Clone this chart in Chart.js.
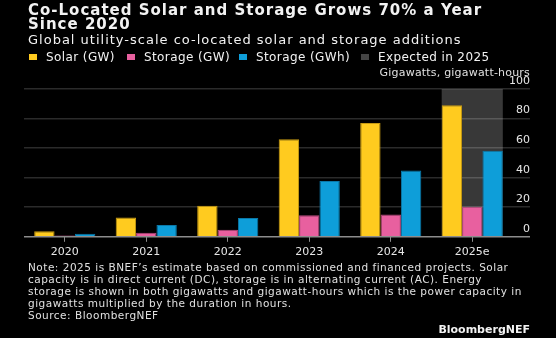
<!DOCTYPE html>
<html>
<head>
<meta charset="utf-8">
<script src="https://cdn.jsdelivr.net/npm/chart.js@4.4.1/dist/chart.umd.min.js"></script>
<style>
  html, body { margin: 0; padding: 0; background: #000; }
  #wrap { position: relative; width: 556px; height: 338px; overflow: hidden; font-family: "DejaVu Sans", sans-serif; color: #f2f2f2; }
  #chart { position: absolute; left: 0; top: 0; }
  .txt { position: absolute; white-space: nowrap; }
  #title { left: 28px; top: 3px; font-size: 15px; font-weight: bold; line-height: 14px; letter-spacing: 1px; }
  #subtitle { left: 28px; top: 32px; font-size: 13px; letter-spacing: 1px; }
  #unit { right: 26px; top: 66px; font-size: 11px; color: #e0e0e0; letter-spacing: 0.2px; }
  #note { left: 28px; top: 261px; font-size: 10.5px; line-height: 12px; color: #e0e0e0; letter-spacing: 0.5px; }
  #logo { right: 26px; top: 323px; font-size: 11px; font-weight: bold; }
  .leg { position: absolute; top: 50px; font-size: 12px; letter-spacing: 0.4px; white-space: nowrap; }
  .leg i { display: inline-block; width: 8px; height: 6px; margin-right: 9px; vertical-align: 1px; }
</style>
</head>
<body>
<div id="wrap">
  <canvas id="chart" width="556" height="338"></canvas>
  <div class="txt" id="title">Co-Located Solar and Storage Grows 70% a Year<br>Since 2020</div>
  <div class="txt" id="subtitle">Global utility-scale co-located solar and storage additions</div>
  <div id="legenda"></div>
  <div class="txt" id="unit">Gigawatts, gigawatt-hours</div>
  <div class="txt" id="note">Note: 2025 is BNEF’s estimate based on commissioned and financed projects. Solar<br>capacity is in direct current (DC), storage is in alternating current (AC). Energy<br>storage is shown in both gigawatts and gigawatt-hours which is the power capacity in<br>gigawatts multiplied by the duration in hours.<br>Source: BloombergNEF</div>
  <div class="txt" id="logo">BloombergNEF</div>
</div>
<script>
// categories and values
const anos = ['2020', '2021', '2022', '2023', '2024', '2025e'];
const solarGW = [3.8, 13, 21, 66, 77, 89];
const storageGW = [0.8, 2.7, 4.8, 14.6, 15.1, 20.3];
const storageGWh = [2.0, 7.9, 12.7, 37.8, 44.9, 58.2];
const yTicks = [0, 20, 40, 60, 80, 100];
const indiceEsperado = 5; // 2025e is the estimate

const COR_SOLAR = '#ffcb1f';
const COR_GW = '#e8609f';
const COR_GWH = '#0e9ed9';
const COR_ESPERADO = '#383838';

// legend (html) - 4th item is the grey box, not a dataset
const itensLegenda = [
    { texto: 'Solar (GW)', cor: COR_SOLAR, x: 29 },
    { texto: 'Storage (GW)', cor: COR_GW, x: 127 },
    { texto: 'Storage (GWh)', cor: COR_GWH, x: 239 },
    { texto: 'Expected in 2025', cor: '#444444', x: 361 }
];
document.getElementById('legenda').innerHTML = itensLegenda
    .map(i => `<div class="leg" style="left:${i.x}px"><i style="background:${i.cor}"></i>${i.texto}</div>`)
    .join('');

// grey box behind the expected year
const fundoEsperado = {
    id: 'fundoEsperado',
    beforeDraw(chart) {
        const y = chart.scales.y;
        const b0 = chart.getDatasetMeta(0).data[indiceEsperado];
        const b2 = chart.getDatasetMeta(2).data[indiceEsperado];
        if (!b0 || !b2) return;
        const left = b0.x - b0.width / 2;
        const right = b2.x + b2.width / 2;
        const top = y.getPixelForValue(yTicks[yTicks.length - 1]);
        const bottom = y.getPixelForValue(0);
        const ctx = chart.ctx;
        ctx.save();
        ctx.fillStyle = COR_ESPERADO;
        ctx.fillRect(left, top, right - left, bottom - top);
        ctx.restore();
    }
};

const ctx = document.getElementById('chart').getContext('2d');
new Chart(ctx, {
    type: 'bar',
    data: {
        labels: anos,
        datasets: [
            { label: 'Solar (GW)', data: solarGW, backgroundColor: COR_SOLAR, borderColor: '#c79a12', borderWidth: 1 },
            { label: 'Storage (GW)', data: storageGW, backgroundColor: COR_GW, borderColor: '#b84a7e', borderWidth: 1 },
            { label: 'Storage (GWh)', data: storageGWh, backgroundColor: COR_GWH, borderColor: '#0a78a8', borderWidth: 1 }
        ]
    },
    options: {
        responsive: false,
        animation: false,
        categoryPercentage: 0.75,
        barPercentage: 1,
        layout: { padding: { top: 89, left: 24, right: 26, bottom: 75 } },
        plugins: {
            tooltip: { enabled: false },
            legend: { display: false }
        },
        scales: {
            x: {
                grid: { drawOnChartArea: false, offset: false, tickLength: 5, color: '#8c8c8c' },
                border: { display: false },
                ticks: { color: '#e6e6e6', font: { family: 'DejaVu Sans', size: 11 }, padding: 4, maxRotation: 0 }
            },
            y: {
                position: 'right',
                min: 0,
                max: 100,
                afterBuildTicks(scale) { scale.ticks = yTicks.map(v => ({ value: v })); },
                afterFit(scale) { scale.width = 17; },
                grid: {
                    color: c => c.tick && c.tick.value === 0 ? '#8c8c8c' : 'rgba(255,255,255,0.17)',
                    lineWidth: 1.5,
                    tickLength: 17
                },
                border: { display: false },
                ticks: {
                    color: '#e6e6e6',
                    font: { family: 'DejaVu Sans', size: 11 },
                    mirror: true,
                    crossAlign: 'near',
                    padding: 17,
                    labelOffset: -8
                }
            }
        }
    },
    plugins: [fundoEsperado]
});
</script>
</body>
</html>
